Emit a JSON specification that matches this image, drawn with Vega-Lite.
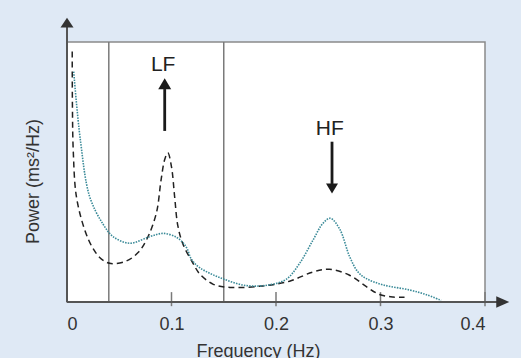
{
  "$schema": "https://vega.github.io/schema/vega-lite/v6.json",
  "width": 418,
  "height": 260,
  "autosize": {"type": "none"},
  "padding": {"left": 67, "top": 42, "right": 36, "bottom": 56},
  "background": "#dfe9f5",
  "config": {
    "view": {"fill": "white", "stroke": "#8a8a8a", "strokeWidth": 1.5},
    "font": "Liberation Sans"
  },
  "datasets": {
    "dashed": [
      {"f": 0.005, "p": 0.963}, {"f": 0.0052, "p": 0.75}, {"f": 0.006, "p": 0.58}, {"f": 0.009, "p": 0.405},
      {"f": 0.017, "p": 0.277}, {"f": 0.025, "p": 0.205}, {"f": 0.033, "p": 0.165}, {"f": 0.042, "p": 0.148},
      {"f": 0.057, "p": 0.158}, {"f": 0.068, "p": 0.19}, {"f": 0.076, "p": 0.238}, {"f": 0.0855, "p": 0.342},
      {"f": 0.09, "p": 0.469}, {"f": 0.0935, "p": 0.548}, {"f": 0.0965, "p": 0.574},
      {"f": 0.1, "p": 0.52}, {"f": 0.103, "p": 0.405}, {"f": 0.106, "p": 0.295},
      {"f": 0.111, "p": 0.222}, {"f": 0.1206, "p": 0.149}, {"f": 0.127, "p": 0.108},
      {"f": 0.14, "p": 0.068}, {"f": 0.156, "p": 0.056}, {"f": 0.1875, "p": 0.062},
      {"f": 0.213, "p": 0.08}, {"f": 0.235, "p": 0.115}, {"f": 0.251, "p": 0.126},
      {"f": 0.27, "p": 0.104}, {"f": 0.2865, "p": 0.059}, {"f": 0.299, "p": 0.029},
      {"f": 0.312, "p": 0.019}, {"f": 0.323, "p": 0.018}
    ],
    "dotted": [
      {"f": 0.0064, "p": 0.886}, {"f": 0.0128, "p": 0.623}, {"f": 0.0217, "p": 0.405},
      {"f": 0.0344, "p": 0.3}, {"f": 0.044, "p": 0.252}, {"f": 0.06, "p": 0.226},
      {"f": 0.079, "p": 0.251}, {"f": 0.092, "p": 0.264}, {"f": 0.1047, "p": 0.249},
      {"f": 0.111, "p": 0.228}, {"f": 0.115, "p": 0.205}, {"f": 0.119, "p": 0.165},
      {"f": 0.127, "p": 0.132}, {"f": 0.148, "p": 0.091}, {"f": 0.172, "p": 0.063},
      {"f": 0.194, "p": 0.066}, {"f": 0.21, "p": 0.088}, {"f": 0.2227, "p": 0.149},
      {"f": 0.2354, "p": 0.238}, {"f": 0.245, "p": 0.303}, {"f": 0.252, "p": 0.322},
      {"f": 0.261, "p": 0.28}, {"f": 0.2705, "p": 0.174}, {"f": 0.2785, "p": 0.115},
      {"f": 0.2865, "p": 0.09}, {"f": 0.3024, "p": 0.066}, {"f": 0.328, "p": 0.046},
      {"f": 0.344, "p": 0.028}, {"f": 0.358, "p": 0.006}
    ],
    "bands": [{"f": 0.04}, {"f": 0.15}],
    "ticks": [{"f": 0.1}, {"f": 0.2}, {"f": 0.3}, {"f": 0.4}],
    "labels": [
      {"f": 0.092, "p": 0.912, "t": "LF"},
      {"f": 0.2514, "p": 0.665, "t": "HF"}
    ],
    "shafts": [
      {"f": 0.0935, "p": 0.819, "p2": 0.658},
      {"f": 0.2536, "p": 0.6165, "p2": 0.454}
    ]
  },
  "layer": [
    {
      "data": {"name": "bands"},
      "mark": {"type": "rule", "color": "#7a7a7a", "strokeWidth": 1.5},
      "encoding": {
        "x": {"field": "f", "type": "quantitative", "scale": {"domain": [0, 0.4], "nice": false},
          "axis": {"values": [0, 0.1, 0.2, 0.3, 0.4], "format": "~g", "ticks": false, "domain": false, "grid": false,
            "labelFontSize": 18, "labelColor": "#333", "labelPadding": 13, "labelFont": "Liberation Sans",
            "title": "Frequency (Hz)", "titleFontSize": 18, "titleFontWeight": "normal", "titleColor": "#333",
            "titleX": 191, "titleY": 40, "titleBaseline": "top", "titleFont": "Liberation Sans"}},
        "y": {"datum": 0, "type": "quantitative", "scale": {"domain": [0, 1], "nice": false},
          "axis": {"ticks": false, "labels": false, "domain": false, "grid": false,
            "title": "Power (ms²/Hz)", "titleFontSize": 18, "titleFontWeight": "normal", "titleColor": "#333",
            "titleX": -34, "titleY": 139, "titleBaseline": "middle", "titleFont": "Liberation Sans"}},
        "y2": {"datum": 1}
      }
    },
    {
      "data": {"name": "ticks"},
      "mark": {"type": "rule", "color": "#7a7a7a", "strokeWidth": 1.5},
      "encoding": {
        "x": {"field": "f", "type": "quantitative"},
        "y": {"datum": -0.016, "type": "quantitative"},
        "y2": {"datum": 0.038}
      }
    },
    {
      "data": {"name": "dashed"},
      "mark": {"type": "line", "color": "#222", "strokeWidth": 1.5, "strokeDash": [6, 4], "interpolate": "catmull-rom"},
      "encoding": {
        "x": {"field": "f", "type": "quantitative"},
        "y": {"field": "p", "type": "quantitative"}
      }
    },
    {
      "data": {"name": "dotted"},
      "mark": {"type": "line", "color": "#3a8a98", "strokeWidth": 1.6, "strokeDash": [1.5, 1.2], "interpolate": "catmull-rom"},
      "encoding": {
        "x": {"field": "f", "type": "quantitative"},
        "y": {"field": "p", "type": "quantitative"}
      }
    },
    {
      "data": {"values": [{"a": 0}]},
      "mark": {"type": "rule", "color": "#555", "strokeWidth": 2},
      "encoding": {
        "x": {"datum": 0, "type": "quantitative"},
        "x2": {"datum": 0.42},
        "y": {"datum": 0, "type": "quantitative"}
      }
    },
    {
      "data": {"values": [{"a": 0}]},
      "mark": {"type": "rule", "color": "#555", "strokeWidth": 2},
      "encoding": {
        "x": {"datum": 0, "type": "quantitative"},
        "y": {"datum": 0, "type": "quantitative"},
        "y2": {"datum": 1.07}
      }
    },
    {
      "data": {"values": [{"f": 0, "p": 1.075}]},
      "mark": {"type": "point", "shape": "M0,-0.75L1,0.75L-1,0.75Z", "filled": true, "color": "#333", "size": 169, "opacity": 1},
      "encoding": {
        "x": {"field": "f", "type": "quantitative"},
        "y": {"field": "p", "type": "quantitative"}
      }
    },
    {
      "data": {"values": [{"f": 0.417, "p": 0}]},
      "mark": {"type": "point", "shape": "M1,0L-1,-0.9L-1,0.9Z", "filled": true, "color": "#333", "size": 169, "opacity": 1},
      "encoding": {
        "x": {"field": "f", "type": "quantitative"},
        "y": {"field": "p", "type": "quantitative"}
      }
    },
    {
      "data": {"name": "shafts"},
      "mark": {"type": "rule", "color": "#1a1a1a", "strokeWidth": 2.8},
      "encoding": {
        "x": {"field": "f", "type": "quantitative"},
        "y": {"field": "p", "type": "quantitative"},
        "y2": {"field": "p2"}
      }
    },
    {
      "data": {"values": [{"f": 0.0935, "p": 0.8392}]},
      "mark": {"type": "point", "shape": "M0,-0.85L1,0.85L-1,0.85Z", "filled": true, "color": "#1a1a1a", "size": 169, "opacity": 1},
      "encoding": {
        "x": {"field": "f", "type": "quantitative"},
        "y": {"field": "p", "type": "quantitative"}
      }
    },
    {
      "data": {"values": [{"f": 0.2536, "p": 0.4365}]},
      "mark": {"type": "point", "shape": "M0,0.85L1,-0.85L-1,-0.85Z", "filled": true, "color": "#1a1a1a", "size": 144, "opacity": 1},
      "encoding": {
        "x": {"field": "f", "type": "quantitative"},
        "y": {"field": "p", "type": "quantitative"}
      }
    },
    {
      "data": {"name": "labels"},
      "mark": {"type": "text", "fontSize": 21, "color": "#222", "font": "Liberation Sans", "baseline": "middle", "align": "center"},
      "encoding": {
        "x": {"field": "f", "type": "quantitative"},
        "y": {"field": "p", "type": "quantitative"},
        "text": {"field": "t"}
      }
    }
  ]
}
